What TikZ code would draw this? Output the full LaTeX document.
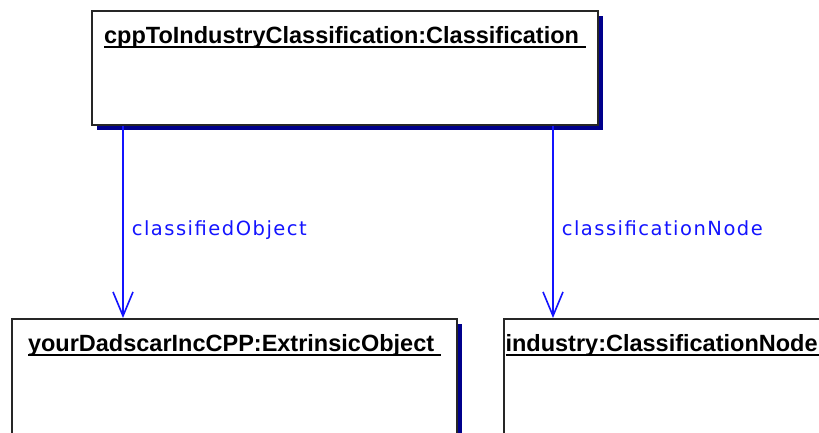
\documentclass[tikz,border=0pt]{standalone}
\usepackage{fontspec}
\usetikzlibrary{arrows.meta,%
	shadows}
\newfontfamily\titlefont{Liberation Sans}
\newfontfamily\labelfont[LetterSpace=7.7]{DejaVu Sans}
\definecolor{shadow_blue}{RGB}{0,0,140}
\definecolor{link_blue}{RGB}{20,20,255}
\newcommand\ulname[1]{\setbox0=\hbox{#1\ }\rlap{\rule[-4.6pt]{\wd0}{1.7pt}}\box0}

\begin{document}
\begin{tikzpicture}[x=1pt,y=-1pt,
	object_box/.style={rectangle,draw=black!85,line width=1.7pt,fill=white,anchor=north west,inner sep=0pt,drop shadow={shadow xshift=5pt,shadow yshift=-5pt,fill=shadow_blue,opacity=1}},
	object_name/.style={anchor=base,inner sep=0pt,font=\titlefont\bfseries\fontsize{23.5}{27}\selectfont},
	link/.style={draw=link_blue,line width=1.6pt,-{Straight Barb[length=24pt,width=20pt,line width=1.6pt]}},
	link_label/.style={anchor=base west,inner sep=0pt,xshift=8pt,text=link_blue,font=\labelfont\fontsize{19.5}{23}\selectfont}]
		
		\useasboundingbox (0,0) rectangle (819,432);
		\clip (0,0) rectangle (819,432);
		\fill[white] (0,0) rectangle (819,432);
		
		\node[object_box,minimum width=506pt,minimum height=114pt] (classification) at (91,10) {};
		\node[object_box,minimum width=445pt,minimum height=150pt] (extrinsic) at (11,318) {};
		\node[object_box,minimum width=322pt,minimum height=150pt] (industry) at (503,318) {};
		
		\node[object_name] (classification_name) at ([yshift=-33pt]classification.north) {\ulname{cppToIndustryClassification:Classification}};
		\node[object_name] (extrinsic_name) at ([yshift=-33pt]extrinsic.north) {\ulname{yourDadscarIncCPP:ExtrinsicObject}};
		\node[object_name] (industry_name) at ([yshift=-33pt]industry.north) {\ulname{industry:ClassificationNode}};
		
		\coordinate (classified_end) at ([xshift=112pt]extrinsic.north west);
		\coordinate (node_end) at ([xshift=50pt]industry.north west);
		\draw[link] (classified_end |- classification.south) -- (classified_end) node[link_label,pos=0.572] (classified_object) {classifiedObject};
		\draw[link] (node_end |- classification.south) -- (node_end) node[link_label,pos=0.572] (classification_node) {classificationNode};
		
\end{tikzpicture}
\end{document}
